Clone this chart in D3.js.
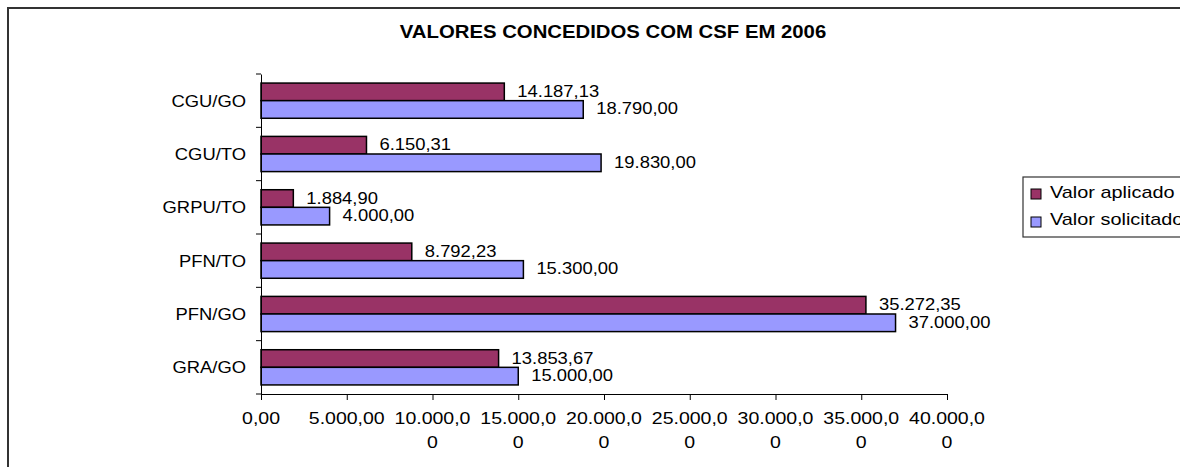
<!DOCTYPE html>
<html>
<head>
<meta charset="utf-8">
<script src="https://cdn.jsdelivr.net/npm/d3@7"></script>
<style>
  body { margin: 0; background: #fff; }
  text { font-family: "Liberation Sans", Arial, sans-serif; fill: #000; }
</style>
</head>
<body>
<svg id="chart" width="1180" height="467"></svg>
<script>
const categories = ['CGU/GO', 'CGU/TO', 'GRPU/TO', 'PFN/TO', 'PFN/GO', 'GRA/GO'];
const seriesNames = ['Valor aplicado', 'Valor solicitado'];
const valorAplicado = [14187.13, 6150.31, 1884.90, 8792.23, 35272.35, 13853.67];
const valorSolicitado = [18790.00, 19830.00, 4000.00, 15300.00, 37000.00, 15000.00];
const xTicks = [0, 5000, 10000, 15000, 20000, 25000, 30000, 35000, 40000];
const title = 'VALORES CONCEDIDOS COM CSF EM 2006';

const colors = ['#993366', '#9999FF'];
const sx = 1.15; // reference text is horizontally stretched

const ptBR = d3.formatLocale({ decimal: ',', thousands: '.', grouping: [3], currency: ['R$', ''] });
const fmt = ptBR.format(',.2f');

const rows = categories.map((c, i) => ({
  cat: c,
  values: [
    { key: seriesNames[0], value: valorAplicado[i] },
    { key: seriesNames[1], value: valorSolicitado[i] }
  ]
}));

const svg = d3.select('#chart');

// outer chart frame (runs off the right/bottom edge like the original)
svg.append('rect')
  .attr('x', 8).attr('y', 8)
  .attr('width', 1200).attr('height', 500)
  .attr('fill', 'none')
  .attr('stroke', '#333')
  .attr('stroke-width', 2);

svg.append('text')
  .attr('transform', `translate(613,38) scale(1.13,1)`)
  .attr('text-anchor', 'middle')
  .style('font-size', '18px')
  .style('font-weight', 'bold')
  .text(title);

const margin = { left: 261, top: 74, right: 947, bottom: 394 };

const x = d3.scaleLinear().domain([0, 40000]).range([margin.left, margin.right]);
const y = d3.scaleBand().domain(categories).range([margin.top, margin.bottom]);
const ySub = d3.scaleBand().domain(seriesNames)
  .range([y.bandwidth() * 0.17, y.bandwidth() * 0.83]);

// bars
const groups = svg.append('g')
  .selectAll('g')
  .data(rows)
  .join('g')
  .attr('transform', d => `translate(0,${y(d.cat)})`);

groups.selectAll('rect')
  .data(d => d.values)
  .join('rect')
  .attr('x', x(0))
  .attr('y', d => ySub(d.key))
  .attr('width', d => x(d.value) - x(0))
  .attr('height', ySub.bandwidth())
  .attr('fill', (d, i) => colors[i])
  .attr('stroke', '#000')
  .attr('stroke-width', 1.5);

groups.selectAll('text')
  .data(d => d.values)
  .join('text')
  .attr('transform', d => `translate(${x(d.value) + 13},${ySub(d.key) + ySub.bandwidth() / 2 + 5}) scale(${sx},1)`)
  .style('font-size', '16px')
  .text(d => fmt(d.value));

// y axis
const yAxis = svg.append('g')
  .attr('transform', `translate(${margin.left},0)`)
  .call(d3.axisLeft(y).tickSize(0).tickFormat(''));
yAxis.select('.domain').attr('stroke', '#000');
yAxis.selectAll('.tick').remove();

svg.append('g')
  .selectAll('line')
  .data(d3.range(categories.length + 1))
  .join('line')
  .attr('x1', margin.left - 5).attr('x2', margin.left)
  .attr('y1', i => margin.top + i * y.step())
  .attr('y2', i => margin.top + i * y.step())
  .attr('stroke', '#000');

svg.append('g')
  .selectAll('text')
  .data(categories)
  .join('text')
  .attr('transform', d => `translate(${margin.left - 15},${y(d) + y.bandwidth() / 2 + 6}) scale(${sx},1)`)
  .attr('text-anchor', 'end')
  .style('font-size', '16px')
  .text(d => d);

// x axis
const xAxis = svg.append('g')
  .attr('transform', `translate(0,${margin.bottom})`)
  .call(d3.axisBottom(x).tickValues(xTicks).tickSize(6).tickSizeOuter(0).tickFormat(''));
xAxis.select('.domain').attr('stroke', '#000');
xAxis.selectAll('.tick line').attr('stroke', '#000');

const tickLabels = svg.append('g')
  .selectAll('text')
  .data(xTicks)
  .join('text')
  .attr('transform', d => `translate(${x(d)},${margin.bottom + 30}) scale(1.22,1)`)
  .attr('text-anchor', 'middle')
  .style('font-size', '16px');

tickLabels.each(function (d) {
  const s = fmt(d);
  const parts = s.length > 8 ? [s.slice(0, 8), s.slice(8)] : [s];
  d3.select(this).selectAll('tspan')
    .data(parts)
    .join('tspan')
    .attr('x', 0)
    .attr('dy', (p, i) => i === 0 ? 0 : 24)
    .text(p => p);
});

// legend
const legend = svg.append('g');
legend.append('rect')
  .attr('x', 1023).attr('y', 177)
  .attr('width', 200).attr('height', 60)
  .attr('fill', '#fff')
  .attr('stroke', '#333')
  .attr('stroke-width', 1.2);

seriesNames.forEach((name, i) => {
  legend.append('rect')
    .attr('x', 1031).attr('y', 189 + i * 28)
    .attr('width', 10).attr('height', 10)
    .attr('fill', colors[i])
    .attr('stroke', '#000');
  legend.append('text')
    .attr('transform', `translate(1050,${198 + i * 27}) scale(1.17,1)`)
    .style('font-size', '17px')
    .text(name);
});
</script>
</body>
</html>
